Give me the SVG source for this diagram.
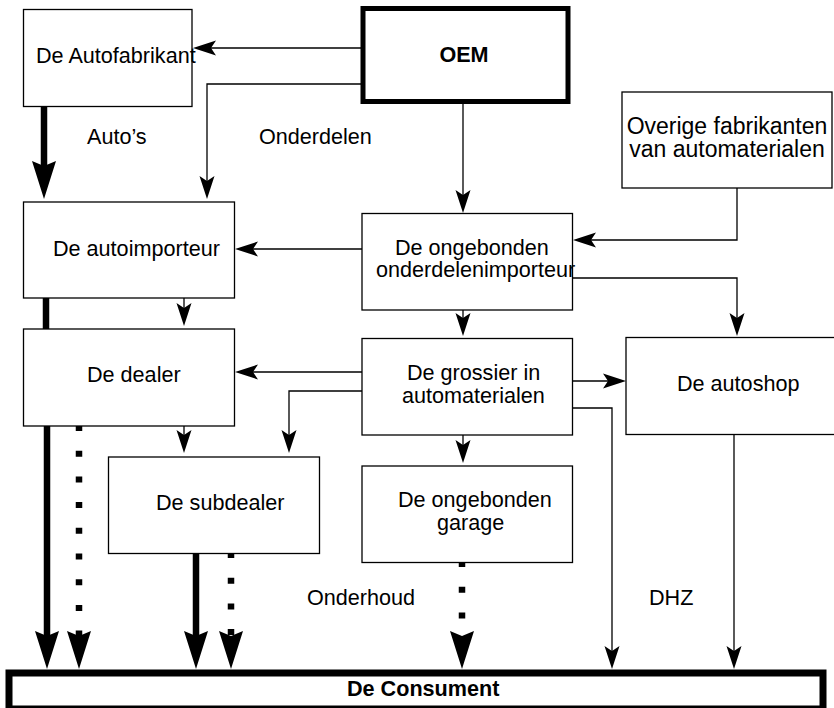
<svg xmlns="http://www.w3.org/2000/svg" width="834" height="708" viewBox="0 0 834 708">
<style>
  .box { fill: #ffffff; stroke: #000000; stroke-width: 1.3; }
  .heavy { fill: #ffffff; stroke: #000000; stroke-width: 5; }
  .cons { fill: #ffffff; stroke: #000000; stroke-width: 7; }
  text { font-family: "Liberation Sans", Arial, sans-serif; font-size: 21.6px; fill: #000000; }
  .b { font-weight: bold; }
  .big { font-size: 23px; }
  .thin { fill: none; stroke: #000000; stroke-width: 1.3; marker-end: url(#ah); }
  .thick { fill: none; stroke: #000000; stroke-width: 6.5; marker-end: url(#ahb); }
  .dot { stroke-dasharray: 6 19.7; }
</style>
<defs>
  <marker id="ah" markerUnits="userSpaceOnUse" viewBox="-6 -8 25 16" markerWidth="25" markerHeight="16" refX="0" refY="0" orient="auto">
    <path d="M18,0 L-5,-7.5 L0,0 L-5,7.5 Z" fill="#000000"/>
  </marker>
  <marker id="ahb" markerUnits="userSpaceOnUse" viewBox="-6 -13 40 26" markerWidth="40" markerHeight="26" refX="0" refY="0" orient="auto">
    <path d="M33,0 L-5,-12 L0,0 L-5,12 Z" fill="#000000"/>
  </marker>
</defs>

<g id="connectors">
  <path class="thin" d="M361,48 H211"/>
  <path class="thin" d="M361,84 H207 V181"/>
  <path class="thin" d="M463,104 V195"/>
  <path class="thin" d="M737,188 V240 H591"/>
  <path class="thin" d="M573,278 H737 V318"/>
  <path class="thin" d="M362,249 H253"/>
  <path class="thin" d="M184,293 V308"/>
  <path class="thin" d="M463,304 V318"/>
  <path class="thin" d="M362,372 H253"/>
  <path class="thin" d="M362,391 H289 V435"/>
  <path class="thin" d="M572,381 H608"/>
  <path class="thin" d="M572,408 H612 V651"/>
  <path class="thin" d="M184,420 V435"/>
  <path class="thin" d="M463,430 V445"/>
  <path class="thin" d="M734,434 V651"/>
  <path class="thick" d="M44,107 V166"/>
  <path d="M46,298 V329" fill="none" stroke="#000000" stroke-width="6.5"/>
  <path class="thick" d="M47,426 V636"/>
  <path class="thick dot" d="M79,425 V636"/>
  <path class="thick" d="M196,553 V636"/>
  <path class="thick dot" d="M231,552 V636"/>
  <path class="thick dot" d="M462,561 V636"/>
</g>

<g id="autofabrikant">
  <rect class="box" x="23.5" y="9.5" width="168.5" height="97"/>
  <text x="36" y="63">De Autofabrikant</text>
</g>
<g id="oem">
  <rect class="heavy" x="363" y="8.5" width="205" height="93"/>
  <text class="b" x="464" y="62" text-anchor="middle">OEM</text>
</g>
<g id="overige">
  <rect class="box" x="622" y="92" width="210" height="96"/>
  <text class="big" x="727" y="134" text-anchor="middle">Overige fabrikanten</text>
  <text class="big" x="727" y="157" text-anchor="middle">van automaterialen</text>
</g>
<g id="autoimporteur">
  <rect class="box" x="23.5" y="202" width="211" height="96"/>
  <text x="53" y="256">De autoimporteur</text>
</g>
<g id="onderdelenimporteur">
  <rect class="box" x="362" y="213.5" width="210.5" height="96.5"/>
  <text x="395" y="255">De ongebonden</text>
  <text x="376" y="277">onderdelenimporteur</text>
</g>
<g id="dealer">
  <rect class="box" x="23.5" y="329" width="211" height="97"/>
  <text x="87" y="382">De dealer</text>
</g>
<g id="grossier">
  <rect class="box" x="362" y="338.5" width="210.5" height="96.5"/>
  <text x="407" y="380">De grossier in</text>
  <text x="402" y="403">automaterialen</text>
</g>
<g id="autoshop">
  <rect class="box" x="626" y="337.5" width="220" height="97"/>
  <text x="677" y="391">De autoshop</text>
</g>
<g id="subdealer">
  <rect class="box" x="108.5" y="457" width="211" height="96.5"/>
  <text x="156" y="510">De subdealer</text>
</g>
<g id="garage">
  <rect class="box" x="362" y="466" width="210.5" height="96.5"/>
  <text x="398" y="507">De ongebonden</text>
  <text x="437" y="530">garage</text>
</g>
<g id="consument">
  <rect class="cons" x="9" y="673" width="814" height="36"/>
  <text class="b" x="347" y="695.5">De Consument</text>
</g>
<g id="labels">
  <text x="87" y="144">Auto’s</text>
  <text x="259" y="144">Onderdelen</text>
  <text x="307" y="605">Onderhoud</text>
  <text x="649" y="605">DHZ</text>
</g>
</svg>
